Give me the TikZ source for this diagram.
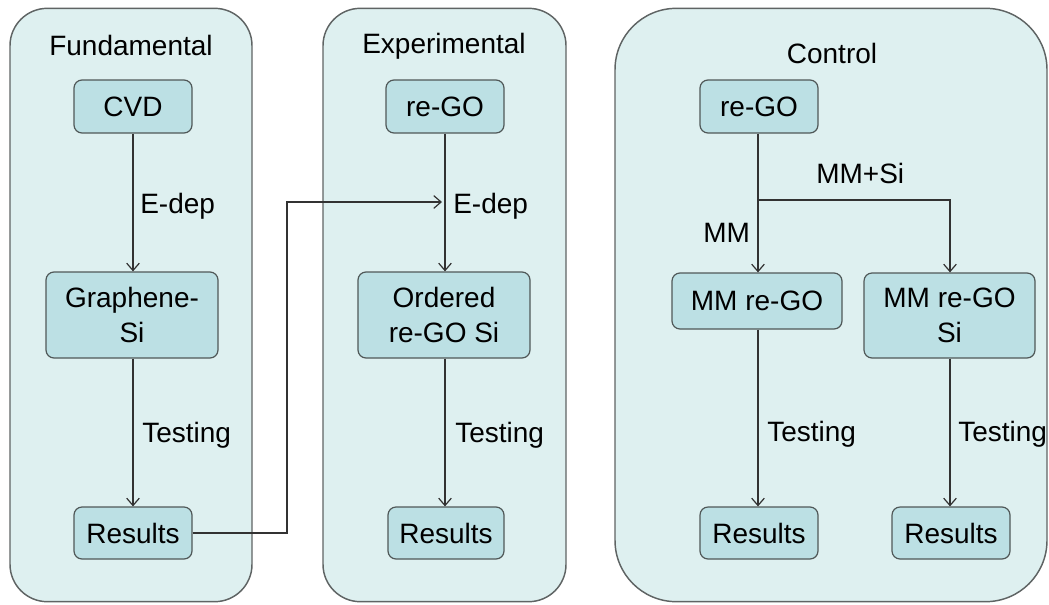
\documentclass[tikz,border=0pt]{standalone}
\usepackage{fontspec}
\setmainfont{Liberation Sans}
\usetikzlibrary{arrows.meta}
\definecolor{panelfill}{RGB}{222,240,240}
\definecolor{boxfill}{RGB}{188,224,228}
\definecolor{panelline}{RGB}{95,100,100}
\definecolor{boxline}{RGB}{80,88,88}
\definecolor{flowline}{RGB}{50,50,50}
\tikzset{
  panel/.style={draw=panelline, fill=panelfill, line width=1.1pt, inner sep=0pt},
  box/.style={draw=boxline, fill=boxfill, line width=0.9pt, rounded corners=6pt,
              inner sep=0pt, align=center, font=\fontsize{21}{26}\selectfont},
  title/.style={anchor=base, inner sep=0pt, font=\fontsize{21}{26}\selectfont},
  lbl/.style={anchor=base west, inner sep=0pt, font=\fontsize{21}{26}\selectfont},
  flow/.style={draw=flowline, line width=0.8pt, -{Straight Barb[length=5.5pt,width=9.5pt,line width=0.9pt]}},
  plain/.style={draw=flowline, line width=0.8pt}
}
\begin{document}
\begin{tikzpicture}[x=0.75pt, y=-0.75pt]
  \useasboundingbox (0,0) rectangle (1049,604);

  % three group panels
  \node[panel, rounded corners=28pt, minimum width=181.5pt, minimum height=445pt] (p1) at (131,305) {};
  \node[panel, rounded corners=28pt, minimum width=182.25pt, minimum height=445pt] (p2) at (444.5,305) {};
  \node[panel, rounded corners=46pt, minimum width=324pt, minimum height=445pt] (p3) at (831,305) {};

  \node[title] (t1) at (131,55) {Fundamental};
  \node[title] (t2) at (444,53) {Experimental};
  \node[title] (t3) at (832,63) {Control};

  % Fundamental column
  \node[box, minimum width=88.5pt, minimum height=39.75pt] (cvd) at (133,106.5) {CVD};
  \node[box, minimum width=129pt, minimum height=64.5pt] (gsi) at (132,315) {Graphene-\\Si};
  \node[box, minimum width=88.5pt, minimum height=39pt] (res1) at (133,533) {Results};

  % Experimental column
  \node[box, minimum width=88.5pt, minimum height=39.75pt] (rgo2) at (445,106.5) {re-GO};
  \node[box, minimum width=129pt, minimum height=64.5pt] (ord) at (444,315) {Ordered\\re-GO Si};
  \node[box, minimum width=87pt, minimum height=39pt] (res2) at (446,533) {Results};

  % Control columns
  \node[box, minimum width=88.5pt, minimum height=39.75pt] (rgo3) at (759,106.5) {re-GO};
  \node[box, minimum width=127.5pt, minimum height=42pt] (mm) at (757,301) {MM re-GO};
  \node[box, minimum width=128.25pt, minimum height=63.75pt] (mmsi) at (949.5,315.5) {MM re-GO\\Si};
  \node[box, minimum width=88.5pt, minimum height=39pt] (res3) at (759,533) {Results};
  \node[box, minimum width=88.5pt, minimum height=39pt] (res4) at (951,533) {Results};

  % Fundamental arrows
  \draw[flow] (133,0 |- cvd.south) -- (133,0 |- gsi.north);
  \draw[flow] (133,0 |- gsi.south) -- (133,0 |- res1.north);
  \node[lbl] (l1) at (140,213) {E-dep};
  \node[lbl] (l2) at (142,442) {Testing};

  % Experimental arrows
  \draw[flow] (445,0 |- rgo2.south) -- (445,0 |- ord.north);
  \draw[flow] (445,0 |- ord.south) -- (445,0 |- res2.north);
  \node[lbl] (l3) at (453,213) {E-dep};
  \node[lbl] (l4) at (455,442) {Testing};

  % link from the fundamental results into the experimental deposition step
  \coordinate (turn) at (287,202);
  \coordinate (tip) at (442,202);
  \draw[flow] (res1.east) -| (turn) -- (tip);

  % Control arrows
  \coordinate (split) at (758,200);
  \draw[flow] (758,0 |- rgo3.south) -- (758,0 |- mm.north);
  \draw[flow] (split) -| (950,0 |- mmsi.north);
  \draw[flow] (758,0 |- mm.south) -- (758,0 |- res3.north);
  \draw[flow] (950,0 |- mmsi.south) -- (950,0 |- res4.north);
  \node[lbl] (l5) at (816,183) {MM+Si};
  \node[lbl] (l6) at (703,242) {MM};
  \node[lbl] (l7) at (767,441) {Testing};
  \node[lbl] (l8) at (958,441) {Testing};
\end{tikzpicture}
\end{document}
